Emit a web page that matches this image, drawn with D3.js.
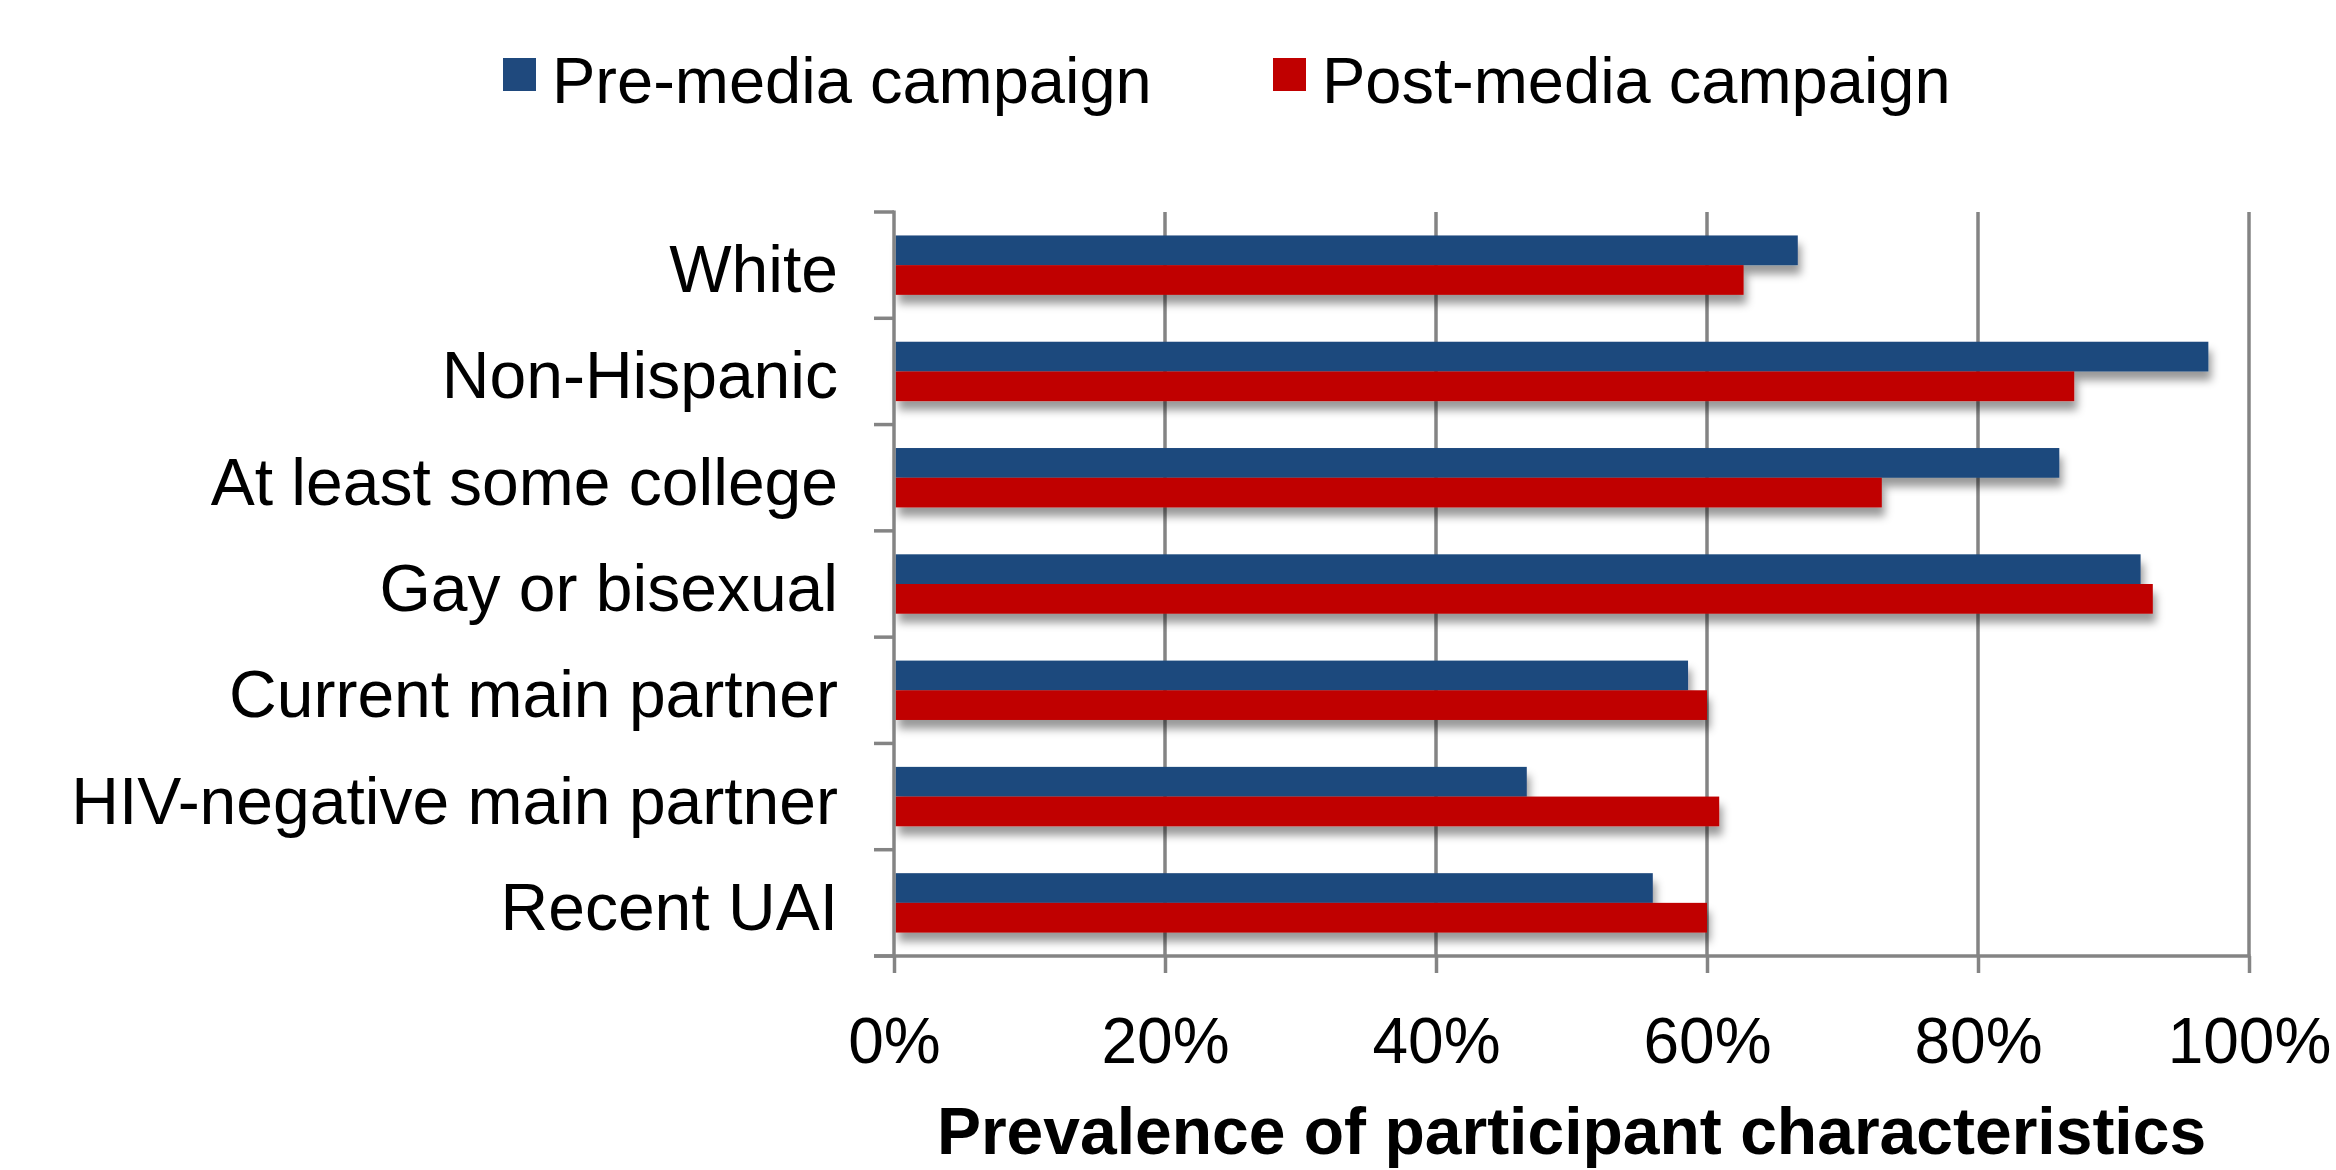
<!DOCTYPE html>
<html>
<head>
<meta charset="utf-8">
<script src="https://cdn.jsdelivr.net/npm/d3@7/dist/d3.min.js"></script>
<style>
  html, body { margin: 0; padding: 0; background: #fff; }
  svg { display: block; font-family: "Liberation Sans", Arial, sans-serif; }
</style>
</head>
<body>
<svg id="chart" width="2336" height="1170"></svg>
<script>
const categories = ["White", "Non-Hispanic", "At least some college", "Gay or bisexual",
  "Current main partner", "HIV-negative main partner", "Recent UAI"];
const seriesNames = ["Pre-media campaign", "Post-media campaign"];
const preValues  = [66.7, 97, 86, 92, 58.6, 46.7, 56];
const postValues = [62.7, 87.1, 72.9, 92.9, 60, 60.9, 60];
const xTicks = [0, 20, 40, 60, 80, 100];
const xTickLabels = ["0%", "20%", "40%", "60%", "80%", "100%"];
const axisTitle = "Prevalence of participant characteristics";
const colors = ["#1F497D", "#C00000"];

(function () {
const svg = d3.select("#chart");
const gray = "#848484";

const pLeft = 894, pRight = 2249, pTop = 212, pBottom = 956;

const x = d3.scaleLinear().domain([0, 100]).range([pLeft, pRight]);
const y = d3.scaleBand().domain(categories).range([pTop, pBottom]).padding(0);
const ySub = d3.scaleBand().domain([0, 1]).range([0, y.bandwidth()]).paddingInner(0).paddingOuter(0.79);

// shadow filter
const defs = svg.append("defs");
const f = defs.append("filter").attr("id", "shadow")
  .attr("x", "-5%").attr("y", "-50%").attr("width", "115%").attr("height", "250%");
f.append("feDropShadow").attr("dx", 3).attr("dy", 9).attr("stdDeviation", 4.5)
  .attr("flood-color", "#000").attr("flood-opacity", 0.4);

// gridlines
svg.append("g").selectAll("line").data(xTicks.filter(d => d > 0)).join("line")
  .attr("x1", d => x(d)).attr("x2", d => x(d))
  .attr("y1", pTop).attr("y2", pBottom)
  .attr("stroke", gray).attr("stroke-width", 3.5);

// bars
const data = [];
categories.forEach((c, i) => {
  data.push({ c, s: 0, v: preValues[i] });
  data.push({ c, s: 1, v: postValues[i] });
});
svg.append("g").selectAll("rect").data(data).join("rect")
  .attr("x", x(0) + 1.5)
  .attr("y", d => y(d.c) + ySub(d.s))
  .attr("width", d => x(d.v) - x(0) - 1.5)
  .attr("height", ySub.bandwidth())
  .attr("fill", d => colors[d.s])
  .attr("filter", "url(#shadow)");

// left axis
const yAxis = d3.axisLeft(y).tickSize(0).tickPadding(56);
const yg = svg.append("g").attr("transform", `translate(${pLeft},0)`).call(yAxis);
yg.select(".domain").remove();
yg.selectAll("text").attr("font-size", 66).attr("fill", "#000")
  .attr("font-family", "'Liberation Sans', Arial, sans-serif")
  .attr("dy", null).attr("y", 27);
// category boundary ticks
const bounds = categories.map(c => y(c)).concat([pBottom]);
svg.append("g").selectAll("line").data(bounds).join("line")
  .attr("x1", pLeft - 20).attr("x2", pLeft)
  .attr("y1", d => d).attr("y2", d => d)
  .attr("stroke", gray).attr("stroke-width", 3.5);
svg.append("line").attr("x1", pLeft).attr("x2", pLeft).attr("y1", pTop - 1.5).attr("y2", pBottom + 1.5)
  .attr("stroke", gray).attr("stroke-width", 3.5);

// bottom axis
const xAxis = d3.axisBottom(x).tickValues(xTicks).tickFormat((d, i) => xTickLabels[i])
  .tickSize(17).tickPadding(0);
const xg = svg.append("g").attr("transform", `translate(0,${pBottom})`).call(xAxis);
xg.select(".domain").remove();
xg.selectAll(".tick line").attr("stroke", gray).attr("stroke-width", 3.5);
xg.selectAll("text").attr("font-size", 64).attr("fill", "#000")
  .attr("font-family", "'Liberation Sans', Arial, sans-serif")
  .attr("dy", null).attr("y", 107);
svg.append("line").attr("x1", pLeft - 20).attr("x2", pRight + 1.5).attr("y1", pBottom).attr("y2", pBottom)
  .attr("stroke", gray).attr("stroke-width", 3.5);

// axis title
svg.append("text").attr("x", (pLeft + pRight) / 2).attr("y", 1154)
  .attr("text-anchor", "middle").attr("font-size", 66).attr("font-weight", "bold")
  .text(axisTitle);

// legend
const legendX = [503, 1273];
const lg = svg.append("g").selectAll("g").data(seriesNames).join("g")
  .attr("transform", (d, i) => `translate(${legendX[i]},0)`);
lg.append("rect").attr("x", 0).attr("y", 58).attr("width", 33).attr("height", 33)
  .attr("fill", (d, i) => colors[i]);
lg.append("text").attr("x", 49).attr("y", 103).attr("font-size", 65).attr("fill", "#000")
  .text(d => d);
})();
</script>
</body>
</html>
